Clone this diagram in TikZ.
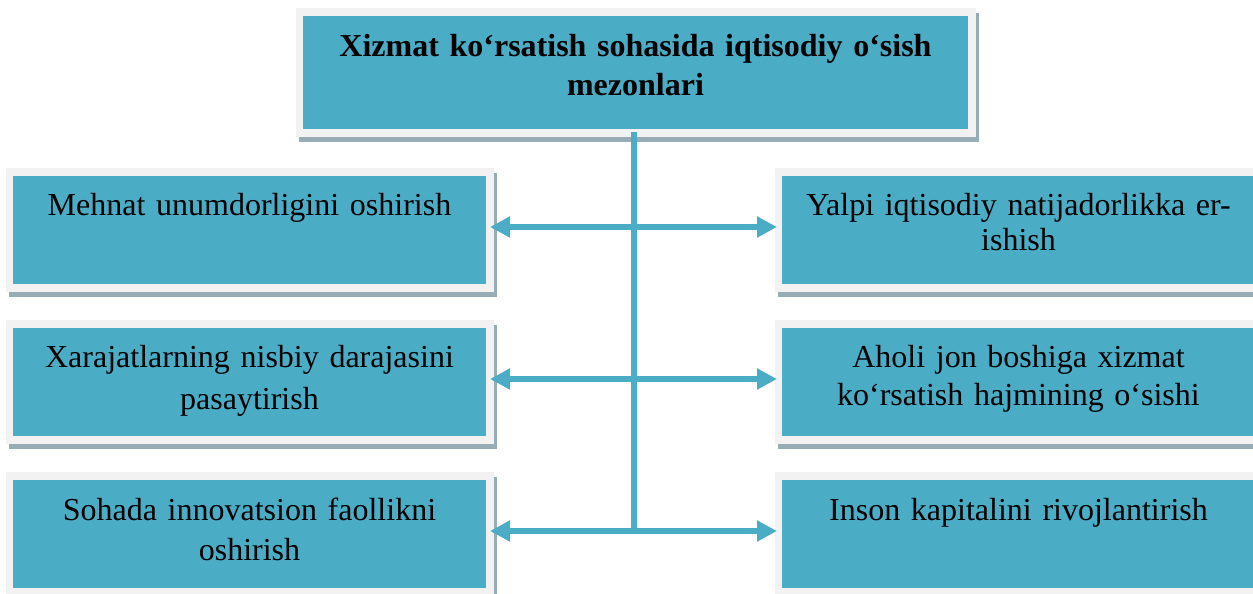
\documentclass[tikz,border=0pt]{standalone}
\usepackage{fontspec}
\setmainfont{Liberation Serif}
\usetikzlibrary{arrows.meta,backgrounds}
\definecolor{tealc}{HTML}{4BACC6}
\definecolor{framec}{HTML}{F2F2F2}
\definecolor{shadowc}{HTML}{98ACB6}
\tikzset{
  box/.style={rectangle, fill=tealc, inner sep=0pt, outer sep=0pt,
    minimum width=473pt, minimum height=108pt},
  titlebox/.style={box, minimum width=665pt, minimum height=113pt},
  txt/.style={anchor=base, inner sep=0pt, align=center, text width=470pt,
    font=\fontsize{32}{36.8}\selectfont},
  conn/.style={draw=tealc, line width=6.5pt},
  biarrow/.style={conn, {Triangle[length=20pt,width=20pt]}-{Triangle[length=20pt,width=20pt]}}
}
\begin{document}
\begin{tikzpicture}[x=1pt,y=-1pt]
\useasboundingbox (0,0) rectangle (1253,594);
% boxes
\node[titlebox] (t) at (635.5,72.5) {};
\node[box] (l1) at (249.5,230) {};
\node[box] (l2) at (249.5,382) {};
\node[box] (l3) at (249.5,534) {};
\node[box] (r1) at (1018.5,230) {};
\node[box] (r2) at (1018.5,382) {};
\node[box] (r3) at (1018.5,534) {};
% frames and shadows
\begin{scope}[on background layer]
\foreach \n in {t,l1,l2,l3,r1,r2,r3}{
  \fill[shadowc] ([shift={(-4,-3)}]\n.north west) rectangle ([shift={(11,12.5)}]\n.south east);
  \fill[framec] ([shift={(-7.5,-8)}]\n.north west) rectangle ([shift={(7.5,8)}]\n.south east);
}
\end{scope}
% texts
\node[txt, font=\fontsize{32}{36.8}\selectfont\bfseries, text width=660pt] (tt) at ([shift={(0,41)}]t.north)
  {Xizmat ko‘rsatish sohasida iqtisodiy o‘sish\\[1.5pt]mezonlari};
\node[txt] (l1t) at ([shift={(0,39)}]l1.north) {Mehnat unumdorligini oshirish};
\node[txt] (l2t) at ([shift={(0,39)}]l2.north) {Xarajatlarning nisbiy darajasini\\[6pt]pasaytirish};
\node[txt] (l3t) at ([shift={(0,40)}]l3.north) {Sohada innovatsion faollikni\\[3.5pt]oshirish};
\node[txt] (r1t) at ([shift={(0,39)}]r1.north) {Yalpi iqtisodiy natijadorlikka er-\\[-1pt]ishish};
\node[txt] (r2t) at ([shift={(0,39)}]r2.north) {Aholi jon boshiga xizmat\\[1.5pt]ko‘rsatish hajmining o‘sishi};
\node[txt] (r3t) at ([shift={(0,40)}]r3.north) {Inson kapitalini rivojlantirish};
% connectors
\coordinate (v0) at ([shift={(-1.5,3)}]t.south);
\coordinate (a3) at ([shift={(4,-3)}]l3.east);
\draw[conn] (v0) -- (v0 |- a3);
\draw[biarrow] ([shift={(4,-3)}]l1.east) -- ([shift={(-5,-3)}]r1.west);
\draw[biarrow] ([shift={(4,-3)}]l2.east) -- ([shift={(-5,-3)}]r2.west);
\draw[biarrow] (a3) -- ([shift={(-5,-3)}]r3.west);
\end{tikzpicture}
\end{document}
